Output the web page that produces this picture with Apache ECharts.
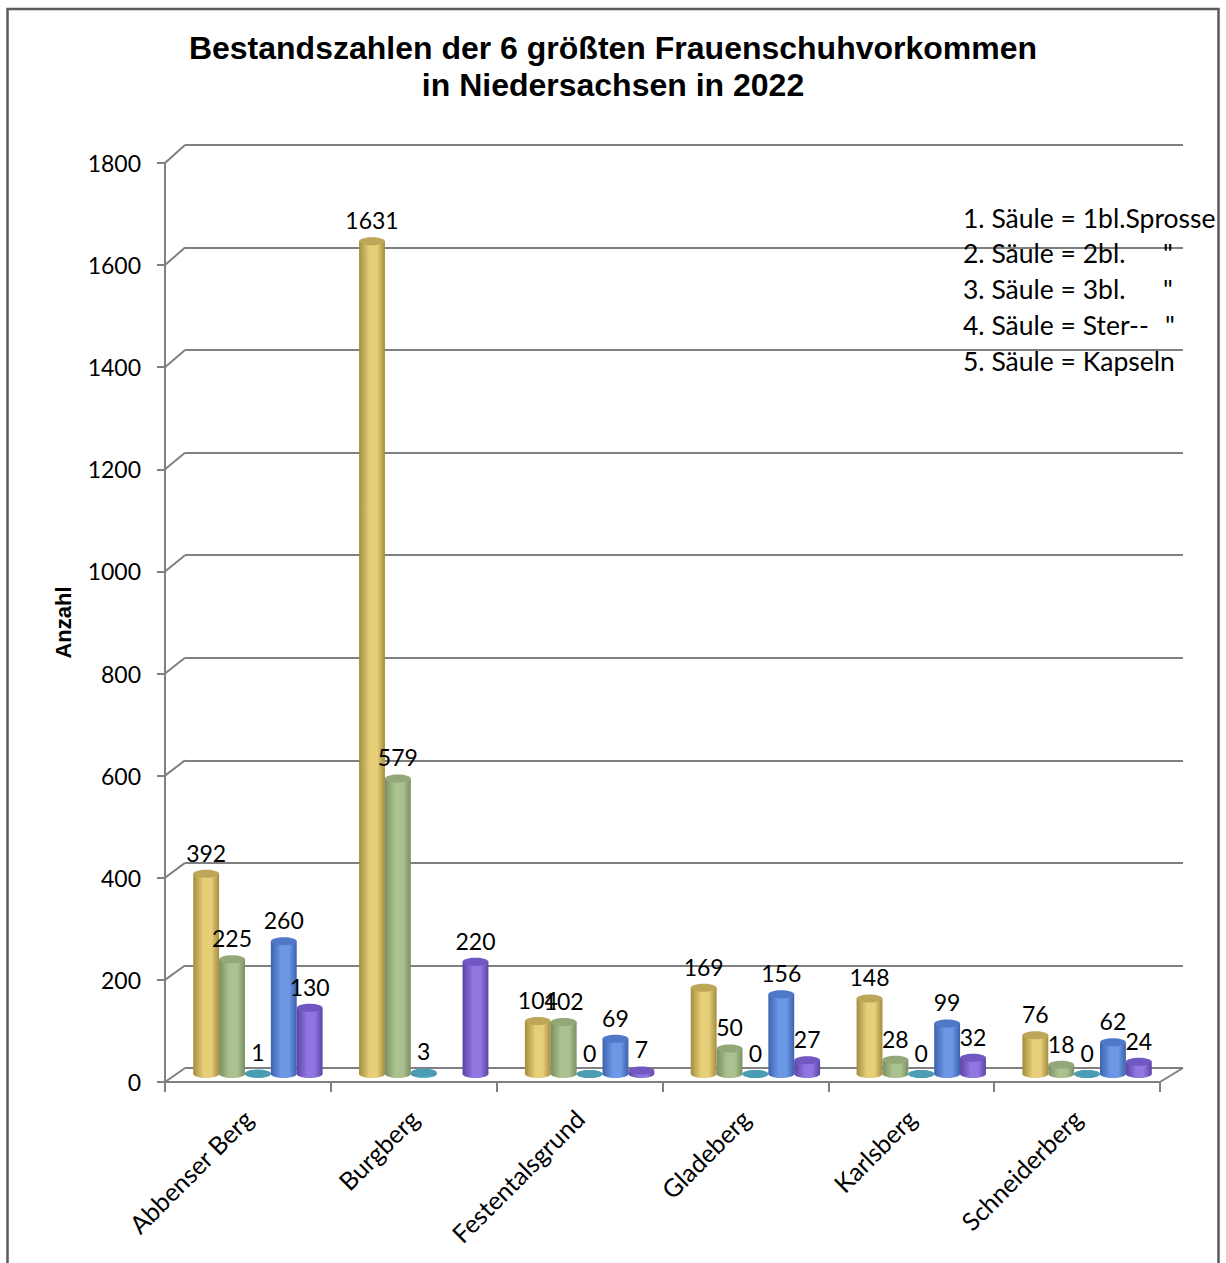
<!DOCTYPE html>
<html><head><meta charset="utf-8">
<script src="https://cdn.jsdelivr.net/npm/echarts@6/dist/echarts.min.js"></script>
<style>html,body{margin:0;padding:0;background:#fff}#c{width:1226px;height:1263px}</style>
</head><body><div id="c"></div>
<script>
// ---------- data ----------
const categories = ['Abbenser Berg', 'Burgberg', 'Festentalsgrund', 'Gladeberg', 'Karlsberg', 'Schneiderberg'];
const saeule1 = [392, 1631, 104, 169, 148, 76];   // 1bl. Sprosse
const saeule2 = [225, 579, 102, 50, 28, 18];      // 2bl.
const saeule3 = [1, 3, 0, 0, 0, 0];               // 3bl.
const saeule4 = [260, null, 69, 156, 99, 62];     // Ster.
const saeule5 = [130, 220, 7, 27, 32, 24];        // Kapseln
const yTicks = [0, 200, 400, 600, 800, 1000, 1200, 1400, 1600, 1800];
const titleLines = ['Bestandszahlen der 6 größten Frauenschuhvorkommen', 'in Niedersachsen in 2022'];
const yAxisTitle = 'Anzahl';
const noteLines = ['1. Säule = 1bl.Sprosse', '2. Säule = 2bl.', '3. Säule = 3bl.', '4. Säule = Ster--', '5. Säule = Kapseln'];
const noteDitto = ['', '"', '"', '"', ''];

// ---------- style ----------
const seriesList = [saeule1, saeule2, saeule3, saeule4, saeule5];
const palette = [
  {edge: '#a38c3e', mid: '#e6cf78', top: '#bda657'},
  {edge: '#7a8f62', mid: '#abc290', top: '#92a878'},
  {edge: '#3a8298', mid: '#5ab4c8', top: '#4a9db3'},
  {edge: '#3c62ad', mid: '#6c98e6', top: '#5078c8'},
  {edge: '#5b43a6', mid: '#8f76e0', top: '#7057c2'}
];
const FRONT = {left: 165, right: 66, top: 163, bottom: 181};
const BACK = {left: 185, right: 43, top: 145, bottom: 195};
const DX = 10, DY = -8;
const GRID_COLOR = '#808080';
const FONT = 'Lato';

const chart = echarts.init(document.getElementById('c'), null, {renderer: 'svg'});

function toData(arr) { return arr.map((v, j) => [j, v == null ? NaN : v]); }

function cylSeries(k) {
  const c = palette[k];
  return {
    type: 'custom', xAxisIndex: 1, yAxisIndex: 1, z: 3,
    data: toData(seriesList[k]),
    renderItem(params, api) {
      const j = api.value(0), v = api.value(1);
      if (isNaN(v)) return null;
      const base = api.coord([j, 0]);
      const top = api.coord([j, v]);
      const w = api.size([1, 0])[0] * 0.156;
      const cx = base[0] + DX + (k - 2) * w;
      const yb = base[1] + DY, yt = top[1] + DY;
      const rx = w / 2, ry = 4;
      const grad = new echarts.graphic.LinearGradient(0, 0, 1, 0, [
        {offset: 0, color: c.edge}, {offset: 0.4, color: c.mid}, {offset: 0.7, color: c.mid}, {offset: 1, color: c.edge}
      ]);
      return {
        type: 'group',
        children: [
          {type: 'ellipse', shape: {cx: cx, cy: yb, rx: rx, ry: ry}, style: {fill: grad}},
          {type: 'rect', shape: {x: cx - rx, y: yt, width: w, height: Math.max(0, yb - yt)}, style: {fill: grad}},
          {type: 'ellipse', shape: {cx: cx, cy: yt, rx: rx, ry: ry}, style: {fill: c.top}}
        ]
      };
    }
  };
}

function labelSeries(k) {
  return {
    type: 'custom', xAxisIndex: 1, yAxisIndex: 1, z: 6,
    data: toData(seriesList[k]),
    renderItem(params, api) {
      const j = api.value(0), v = api.value(1);
      if (isNaN(v)) return null;
      const base = api.coord([j, 0]);
      const top = api.coord([j, v]);
      const w = api.size([1, 0])[0] * 0.156;
      const cx = base[0] + DX + (k - 2) * w;
      const yt = top[1] + DY;
      return {
        type: 'text',
        style: {text: String(v), x: cx, y: yt - 21, fill: '#000', font: '23px ' + FONT, align: 'center', verticalAlign: 'middle'}
      };
    }
  };
}

// connectors between front axis ticks and back wall grid lines
const connectorSeries = {
  type: 'custom', xAxisIndex: 1, yAxisIndex: 1, z: 2,
  data: yTicks.map(v => [0, v]),
  renderItem(params, api) {
    const v = api.value(1);
    const fy = api.coord([0, v])[1];
    const fx = params.coordSys.x;
    let by;
    try { by = chart.convertToPixel({yAxisIndex: 0}, v); } catch (e) { by = fy - 14; }
    if (typeof by !== 'number' || isNaN(by)) by = fy - 14;
    return {type: 'line', shape: {x1: fx, y1: fy, x2: BACK.left, y2: by}, style: {stroke: GRID_COLOR, lineWidth: 2}};
  }
};
const floorEdgeSeries = {
  type: 'custom', xAxisIndex: 1, yAxisIndex: 1, z: 2,
  data: [[0, 0]],
  renderItem(params, api) {
    const fy = api.coord([0, 0])[1];
    const fx = params.coordSys.x + params.coordSys.width;
    let by;
    try { by = chart.convertToPixel({yAxisIndex: 0}, 0); } catch (e) { by = fy - 14; }
    if (typeof by !== 'number' || isNaN(by)) by = fy - 14;
    return {type: 'line', shape: {x1: fx, y1: fy, x2: 1226 - BACK.right, y2: by}, style: {stroke: GRID_COLOR, lineWidth: 2}};
  }
};

const graphics = [
  {type: 'rect', z: -10, silent: true, shape: {x: 7.5, y: 9, width: 1211, height: 1300}, style: {fill: 'none', stroke: '#5a5a5a', lineWidth: 2.5}}
];
noteLines.forEach((t, i) => {
  graphics.push({type: 'text', left: 963, top: 220 + i * 35.8 - 16, z: 20,
    style: {text: t, fill: '#000', font: '26.5px ' + FONT}});
  if (noteDitto[i]) graphics.push({type: 'text', left: i === 3 ? 1165 : 1163, top: 220 + i * 35.8 - 16, z: 20,
    style: {text: noteDitto[i], fill: '#000', font: '26.5px ' + FONT}});
});

const option = {
  backgroundColor: '#fff',
  animation: false,
  title: {
    text: titleLines.join('\n'), left: 'center', top: 24,
    textStyle: {fontFamily: 'Liberation Sans', fontWeight: 'bold', fontSize: 32, lineHeight: 37, color: '#000'}
  },
  grid: [
    {left: BACK.left, right: BACK.right, top: BACK.top, bottom: BACK.bottom},
    {left: FRONT.left, right: FRONT.right, top: FRONT.top, bottom: FRONT.bottom}
  ],
  xAxis: [
    {gridIndex: 0, type: 'category', data: categories, show: false},
    {gridIndex: 1, type: 'category', data: categories,
      axisLine: {lineStyle: {color: GRID_COLOR, width: 2}},
      axisTick: {show: true, length: 10, lineStyle: {color: GRID_COLOR, width: 2}},
      axisLabel: {rotate: 45, margin: 32, color: '#000', fontFamily: FONT, fontSize: 25}}
  ],
  yAxis: [
    {gridIndex: 0, type: 'value', min: 0, max: 1800, interval: 200,
      axisLine: {show: false}, axisTick: {show: false}, axisLabel: {show: false},
      splitLine: {show: true, lineStyle: {color: GRID_COLOR, width: 2}}},
    {gridIndex: 1, type: 'value', min: 0, max: 1800, interval: 200,
      name: yAxisTitle, nameLocation: 'middle', nameGap: 91,
      nameTextStyle: {fontFamily: 'Liberation Sans', fontWeight: 'bold', fontSize: 22, color: '#000'},
      axisLine: {show: true, lineStyle: {color: GRID_COLOR, width: 2}},
      axisTick: {show: true, length: 8, lineStyle: {color: GRID_COLOR, width: 2}},
      axisLabel: {margin: 24, color: '#000', fontFamily: FONT, fontSize: 23, formatter: v => String(v)},
      splitLine: {show: false}}
  ],
  graphic: graphics,
  series: [connectorSeries, floorEdgeSeries]
    .concat([0, 1, 2, 3, 4].map(cylSeries))
    .concat([0, 1, 2, 3, 4].map(labelSeries))
};
chart.setOption(option);
// re-render so connector end points use the laid-out back grid
chart.setOption({series: option.series});
</script>
</body></html>
